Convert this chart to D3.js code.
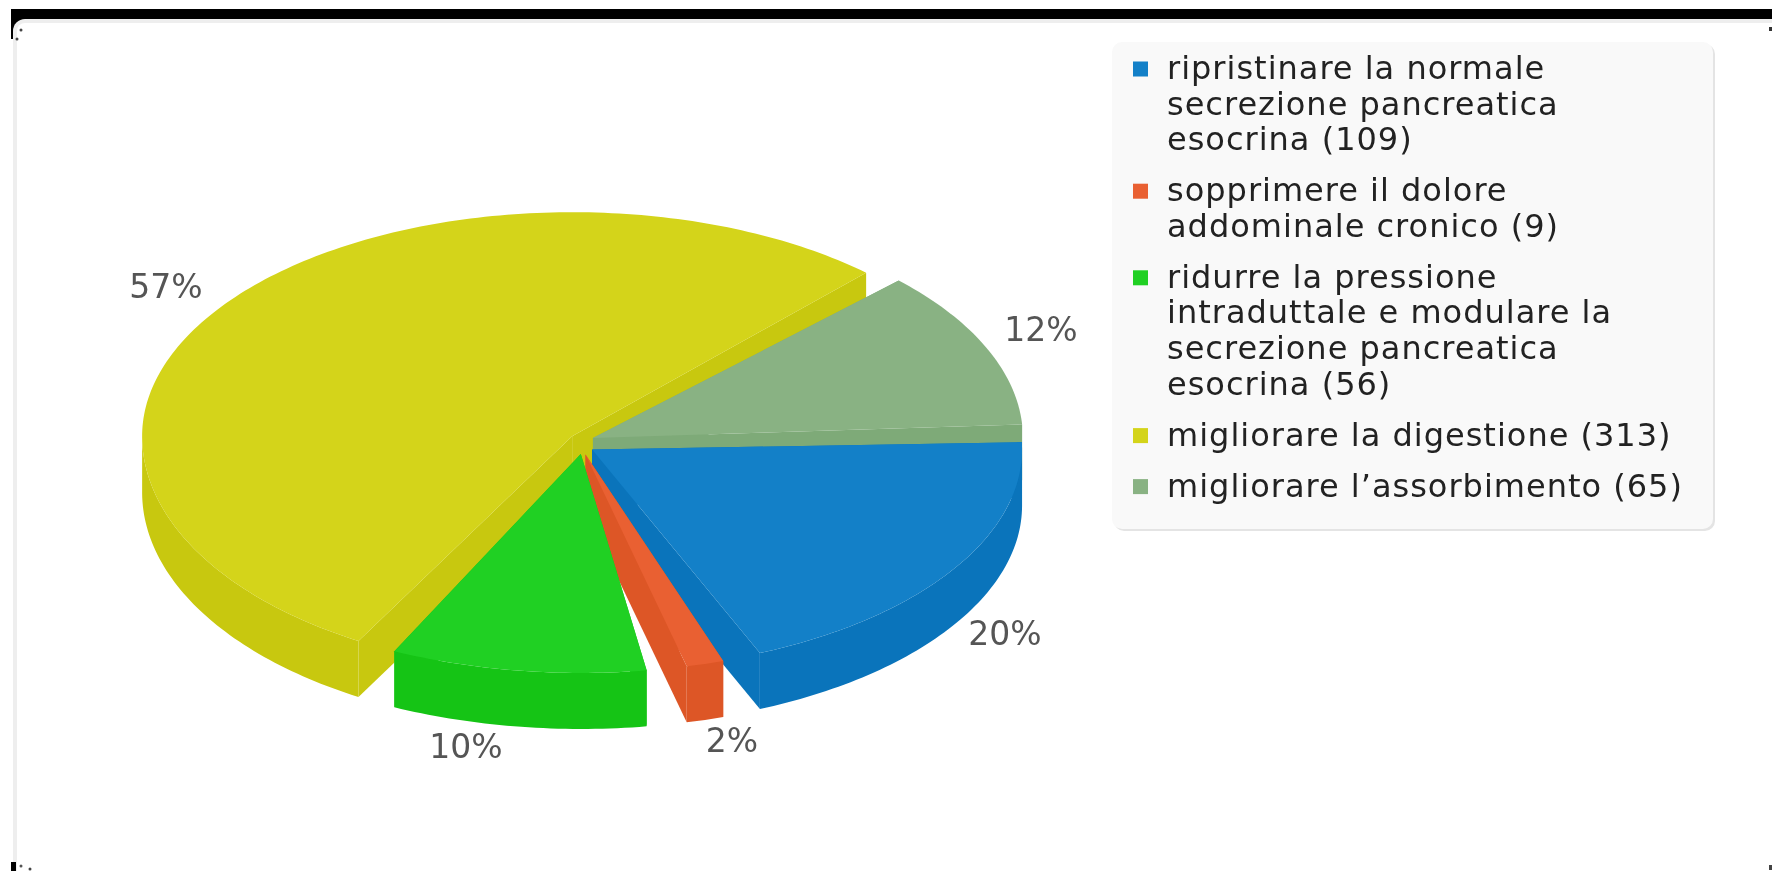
<!DOCTYPE html>
<html lang="en">
<head>
    <meta charset="UTF-8">
    <title>Pie 3D</title>
    <style>
        html, body { margin: 0; padding: 0; background: #fff; overflow: hidden; }
        svg { display: block; }
        text { font-family: "DejaVu Sans", sans-serif; }
    </style>
    <script src="https://d3js.org/d3.v7.min.js"></script>
</head>
<body>
<script>
// values as printed in the legend, same order
const categories = ['ripristinare', 'sopprimere', 'ridurre', 'digestione', 'assorbimento'];
const values = [109, 9, 56, 313, 65];
const percentLabels = ['20%', '2%', '10%', '57%', '12%'];
const legendLines = [
    ['ripristinare la normale', 'secrezione pancreatica', 'esocrina (109)'],
    ['sopprimere il dolore', 'addominale cronico (9)'],
    ['ridurre la pressione', 'intraduttale e modulare la', 'secrezione pancreatica', 'esocrina (56)'],
    ['migliorare la digestione (313)'],
    ['migliorare l\u2019assorbimento (65)']
];
const topColors = ['#1380c8', '#e96032', '#20d023', '#d4d41a', '#89b283'];
const wallColors = ['#0a74bb', '#dd5626', '#15c415', '#c8c80f', '#7eaa78'];
// label anchor points (centre x, baseline y)
const labelX = [1005, 732, 466, 166, 1041];
const labelY = [645, 752, 758, 298, 341];

const width = 1772, height = 871;
const cx = 582, cy = 443, rx = 430, ryTop = 224;
const depth = 56;
const rad = Math.PI / 180;

// the original rim isn't a perfect ellipse, small per slice corrections (degrees / px)
const startNudge = [-0.9, 1.2, 2.35, 2.9, 0];
const endNudge = [0, 0.65, 1.9, 0.9, 0.6];
const ryBottom = [221, 218, 219, 236, 224];
const explode = [12, 12, 11, 12, 12];

const svg = d3.select('body').append('svg')
    .attr('width', width)
    .attr('height', height)
    .style('filter', 'blur(0.7px)');

// frame left over from the screenshot
svg.append('rect').attr('x', 11).attr('y', 9).attr('width', width - 11).attr('height', 30).attr('fill', '#000');
svg.append('rect').attr('x', 13).attr('y', 19).attr('width', width).attr('height', height).attr('rx', 12).attr('fill', '#eee');
svg.append('rect').attr('x', 17).attr('y', 23).attr('width', width).attr('height', height).attr('rx', 8).attr('fill', '#fff');
svg.append('rect').attr('x', 11).attr('y', 862).attr('width', 5).attr('height', 9).attr('fill', '#000');
svg.append('rect').attr('x', 1769).attr('y', 27).attr('width', 3).attr('height', 4).attr('fill', '#333');
svg.append('rect').attr('x', 1769).attr('y', 865).attr('width', 3).attr('height', 5).attr('fill', '#444');
svg.append('circle').attr('cx', 21).attr('cy', 30).attr('r', 1.5).attr('fill', '#444');
svg.append('circle').attr('cx', 17).attr('cy', 39).attr('r', 1.5).attr('fill', '#444');
svg.append('circle').attr('cx', 21).attr('cy', 866).attr('r', 1.5).attr('fill', '#555');
svg.append('circle').attr('cx', 30).attr('cy', 869).attr('r', 1.5).attr('fill', '#444');

const pie = d3.pie().sort(null)
    .startAngle((90 - 1 - 1.55) * rad)
    .endAngle((450 - 1 - 1.55) * rad)
    .padAngle(3.1 * rad)
    .value(d => d);
const arcs = pie(values);

// the pie projected on an ellipse, d3 angles run clockwise from 12 o'clock
const slices = arcs.map((a, i) => {
    const start = a.startAngle + a.padAngle / 2 - Math.PI / 2 + startNudge[i] * rad;
    const end = a.endAngle - a.padAngle / 2 - Math.PI / 2 + endNudge[i] * rad;
    const mid = (a.startAngle + a.endAngle) / 2 - Math.PI / 2;
    const ox = cx + explode[i] * Math.cos(mid), oy = cy + explode[i] * Math.sin(mid);
    const xScale = d3.scaleLinear().domain([-1, 1]).range([-rx, rx]);
    const yScale = d3.scaleLinear().domain([-1, 0, 1]).range([-ryTop, 0, ryBottom[i]]);
    const n = Math.ceil((end - start) / rad);
    const rim = d3.range(n + 1).map(k => {
        const t = start + (end - start) * k / n;
        return [ox + xScale(Math.cos(t)), oy + yScale(Math.sin(t))];
    });
    return { i, apex: [ox, oy], rim };
});

const line = d3.line();
const down = p => [p[0], p[1] + depth];
const drawOrder = [3, 4, 0, 1, 2];

drawOrder.forEach(i => {
    const s = slices[i];
    const first = s.rim[0], last = s.rim[s.rim.length - 1];
    // only the front of the rim shows, the back is hidden under the top face
    const front = s.rim.filter(p => p[1] >= s.apex[1]);
    const g = svg.append('g');
    const walls = [
        [s.apex, first, down(first), down(s.apex)],
        [s.apex, last, down(last), down(s.apex)]
    ];
    if (front.length > 1) walls.push([...front, ...front.slice().reverse().map(down)]);
    g.selectAll('path.wall')
        .data(walls)
        .enter().append('path')
        .attr('class', 'wall')
        .attr('d', d => line(d) + 'Z')
        .attr('fill', wallColors[i]);
    g.append('path')
        .attr('d', line([s.apex, ...s.rim]) + 'Z')
        .attr('fill', topColors[i]);
});

svg.selectAll('text.pct')
    .data(percentLabels)
    .enter().append('text')
    .attr('class', 'pct')
    .attr('x', (d, i) => labelX[i])
    .attr('y', (d, i) => labelY[i])
    .attr('text-anchor', 'middle')
    .attr('font-size', 33)
    .attr('fill', '#555')
    .text(d => d);

// legend box
const legend = svg.append('g');
legend.append('rect').attr('x', 1114).attr('y', 44).attr('width', 601).attr('height', 487).attr('rx', 10).attr('fill', '#e4e4e4');
legend.append('rect').attr('x', 1112).attr('y', 42).attr('width', 601).attr('height', 487).attr('rx', 10).attr('fill', '#f9f9f9');

let baseline = 79;
legendLines.forEach((lines, i) => {
    legend.append('rect')
        .attr('x', 1133).attr('y', baseline - 17.5)
        .attr('width', 15).attr('height', 15)
        .attr('fill', topColors[i]);
    lines.forEach((t, k) => {
        legend.append('text')
            .attr('x', 1167)
            .attr('y', baseline + k * 35.6)
            .attr('font-size', 32)
            .attr('letter-spacing', 1)
            .attr('fill', '#222')
            .text(t);
    });
    baseline += (lines.length - 1) * 35.6 + 51;
});
</script>
</body>
</html>
